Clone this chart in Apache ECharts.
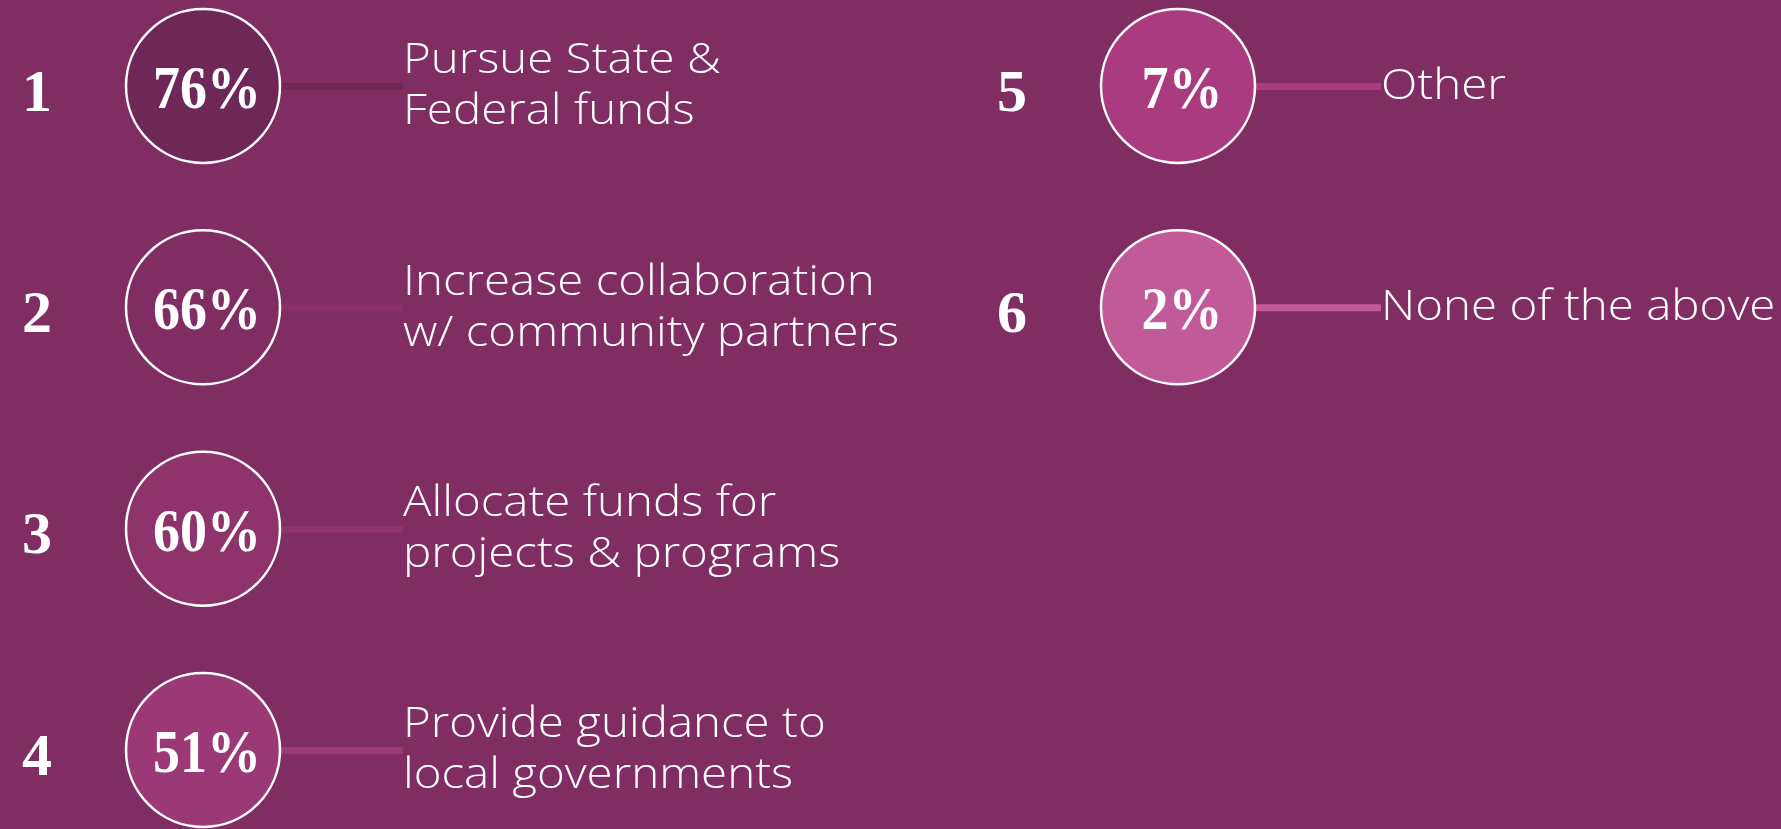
<!DOCTYPE html>
<html lang="en">
  <head>
    <meta charset="UTF-8" />
    <title>Priorities</title>
    <script src="https://cdn.jsdelivr.net/npm/echarts@6/dist/echarts.min.js"></script>
    <style>
      html, body { margin: 0; padding: 0; background: #802d63; }
      #box { width: 1781px; height: 829px; }
    </style>
  </head>
  <body>
    <div id="box"></div>
  </body>
  <script>
    // data
    var ranks = [1, 2, 3, 4, 5, 6];
    var percents = [76, 66, 60, 51, 7, 2];
    var labels = [
      "Pursue State &\nFederal funds",
      "Increase collaboration\nw/ community partners",
      "Allocate funds for\nprojects & programs",
      "Provide guidance to\nlocal governments",
      "Other",
      "None of the above",
    ];

    // colours per item (circle fill + connector)
    var fills = ["#6f2757", "#802d63", "#8e336c", "#9b3876", "#aa3b81", "#c25a9a"];
    var lineColors = ["#6f2757", "#8b3069", "#8f336c", "#9b3876", "#aa3b81", "#c25a9a"];

    // two columns of four rows
    var rows = 4;
    var items = ranks.map(function (r, i) {
      return [Math.floor(i / rows), i % rows, percents[i], r];
    });

    var myChart = echarts.init(document.getElementById("box"));

    function renderItem(params, api) {
      var i = params.dataIndex;
      var c = api.coord([api.value(0), api.value(1)]);
      var col = api.value(0);
      var textX = c[0] + (col === 0 ? 200 : 203);
      return {
        type: "group",
        children: [
          {
            type: "rect",
            shape: { x: c[0] + 70, y: c[1] - 3, width: textX - c[0] - 70, height: 7 },
            style: { fill: lineColors[i] },
          },
          {
            type: "circle",
            shape: { cx: c[0], cy: c[1], r: 77 },
            style: { fill: fills[i], stroke: "#ffffff", lineWidth: 2.5 },
          },
          {
            // percent inside the circle, squeezed a bit to look like the original face
            type: "text",
            x: c[0] + 4,
            y: c[1] + 6,
            scaleX: 0.87,
            style: {
              text: api.value(2) + "%",
              x: 0,
              y: 0,
              align: "center",
              verticalAlign: "middle",
              fontFamily: "Liberation Serif",
              fontWeight: "bold",
              fontSize: 62,
              fill: "#ffffff",
            },
          },
          {
            type: "text",
            style: {
              text: String(api.value(3)),
              x: c[0] - 166,
              y: c[1] + 9,
              align: "center",
              verticalAlign: "middle",
              fontFamily: "Liberation Serif",
              fontWeight: "bold",
              fontSize: 60,
              fill: "#ffffff",
            },
          },
          {
            // label, stretched wider (original font is Montserrat-like)
            type: "text",
            x: textX,
            y: c[1] + 1,
            scaleX: 1.13,
            style: {
              text: labels[i],
              x: 0,
              y: 0,
              align: "left",
              verticalAlign: "middle",
              fontFamily: "Open Sans",
              fontWeight: 300,
              fontSize: 42,
              lineHeight: 51,
              fill: "#ffffff",
            },
          },
        ],
      };
    }

    var option = {
      backgroundColor: "#802d63",
      animation: false,
      grid: { left: 203, right: 603, top: 86, bottom: 79 },
      xAxis: { type: "value", min: 0, max: 1, show: false },
      yAxis: { type: "value", min: 0, max: rows - 1, inverse: true, show: false },
      series: [
        {
          type: "custom",
          clip: false,
          renderItem: renderItem,
          data: items,
        },
      ],
    };
    myChart.setOption(option);
  </script>
</html>
